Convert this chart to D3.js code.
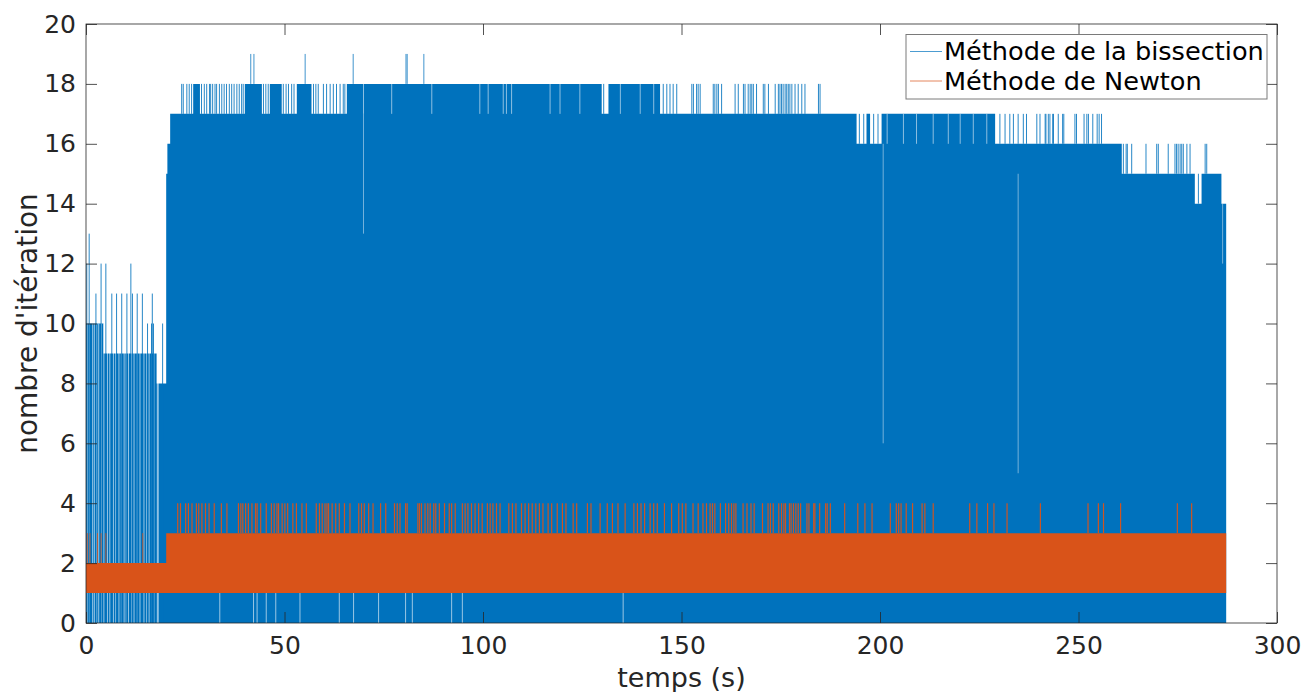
<!DOCTYPE html>
<html>
<head>
<meta charset="utf-8">
<script src="https://cdn.jsdelivr.net/npm/d3@7"></script>
<style>
  body { margin: 0; background: #fff; }
  svg { display: block; font-family: "DejaVu Sans", sans-serif; }
</style>
</head>
<body>
<svg id="chart" width="1304" height="692"></svg>
<script>
'use strict';

// ---- values ----
const xTicks = [0, 50, 100, 150, 200, 250, 300];
const yTicks = [0, 2, 4, 6, 8, 10, 12, 14, 16, 18, 20];
const seriesNames = ["Méthode de la bissection", "Méthode de Newton"];

// bisection : solid envelope of the fast oscillation (step after)
const bisStepT = [0, 4.4, 17.8, 20.2, 20.5, 21.2, 27.0, 28.7, 40.0, 44.3, 46.3, 49.3, 53.1, 56.8, 65.7,
  129.9, 131.6, 144.6, 194.1, 196.6, 197.5, 200.4, 229.0, 260.9, 279.3, 281.0, 286.0, 287.2];
const bisStepV = [10, 9, 8, 15, 16, 17, 18, 17, 18, 17, 18, 17, 18, 17, 18,
  17, 18, 17, 16, 17, 16, 17, 16, 15, 14, 15, 14, 14];

// bisection : isolated peaks during the first 20 s
const bisEarlyT = [0.2, 0.8, 2.5, 3.8, 5.0, 6.5, 7.7, 9.0, 10.3, 11.3, 11.7, 12.9, 14.2, 15.5, 16.5, 16.7, 17.0, 19.3];
const bisEarlyV = [12, 13, 11, 12, 12, 11, 11, 11, 11, 12, 11, 11, 11, 10, 10, 11, 10, 10];

// bisection : peaks one level above the envelope
const bisPeak19 = [41.5, 42.3, 55.2, 67.3, 80.6, 80.9, 85.1];
const bisPeak18 = [24.1, 24.5, 25.4, 26.0, 26.6, 29.1, 29.8, 30.4, 31.1, 31.4, 31.9, 32.5, 32.9, 33.6, 34.2,
  34.8, 35.4, 36.1, 36.7, 37.3, 38.0, 38.6, 39.2, 39.6, 44.7, 45.3, 45.9, 49.7, 50.4, 51.0, 51.8, 52.4,
  57.3, 57.9, 58.5, 59.8, 60.6, 61.5, 62.3, 63.1, 64.0, 64.8, 65.2, 130.4, 145.4, 146.3, 147.1, 147.9,
  148.8, 152.6, 153.0, 153.8, 154.2, 154.7, 158.0, 158.4, 158.9, 159.3, 160.1, 163.5, 164.3, 165.6, 166.0,
  166.8, 167.3, 167.7, 168.1, 168.9, 170.6, 171.0, 171.9, 173.6, 174.4, 174.8, 175.2, 175.6, 176.1, 176.5,
  176.9, 177.3, 177.8, 178.6, 179.4, 180.3, 181.1, 184.5, 184.9];
const bisPeak17 = [194.8, 195.9, 198.4, 199.5, 230.2, 231.5, 232.7, 233.6, 234.8, 236.1, 236.9, 239.5, 240.3,
  241.6, 241.8, 242.4, 242.8, 243.5, 243.7, 244.9, 246.0, 246.3, 249.1, 249.5, 251.4, 252.1, 252.5, 253.6,
  254.7, 255.2, 255.8];
const bisPeak16 = [261.3, 262.0, 262.3, 263.4, 267.0, 269.7, 270.1, 272.6, 274.3, 274.7, 275.1, 275.6,
  276.0, 276.4, 277.3, 278.1, 281.9, 282.3];
const bisPeak15 = [280.2];

// bisection : instants where the oscillation does not reach the envelope
const bisEarlyGap = [0.33, 0.84, 1.68, 2.1, 2.7, 3.2, 3.9, 4.5, 5.4, 6.0, 6.9, 7.5, 8.3, 8.9, 9.6, 10.1,
  10.7, 11.5, 12.1, 12.9, 13.6, 14.6, 15.3, 15.9, 16.5, 17.1, 17.97, 18.2];
const bisGap18 = [69.9, 77.0, 87.1, 99.2, 101.3, 105.1, 105.9, 107.2, 116.9, 119.4, 124.4, 134.6, 139.6, 143.0];
const bisGap17 = [201.8, 205.9, 209.2, 213.4, 217.2, 220.2, 223.5, 226.9];
const bisGapLow = [33.7, 42.2, 43.1, 45.4, 47.8, 53.9, 63.8, 67.4, 73.7, 80.5, 82.2, 92.1, 94.8, 135.3];
const bisLongGapT = [69.9, 200.8, 234.8, 286.3];
const bisLongGapHi = [17, 16, 15, 14];
const bisLongGapLo = [13, 6, 5, 12];

// Newton : band between 1 and the envelope (step after)
const newStepT = [0, 20.2, 287.2];
const newStepV = [2, 3, 3];
const newPeak3 = [0.33, 1.0, 2.9, 3.8, 5.0, 14.3];
const newPeak4 = [23.1, 23.8, 25.1, 25.8, 26.7, 27.8, 28.4, 29.2, 30.1, 31.0, 32.3, 34.1, 35.5, 38.4, 39.0,
  39.5, 40.2, 40.9, 41.8, 42.7, 43.1, 44.0, 45.4, 46.7, 47.4, 48.1, 48.5, 49.4, 50.1, 50.8, 52.1, 53.0,
  54.4, 55.5, 58.0, 58.8, 59.5, 60.2, 60.7, 61.1, 62.0, 62.9, 63.8, 65.1, 66.5, 68.7, 69.4, 70.1, 71.2,
  72.3, 74.2, 75.5, 77.7, 78.4, 79.1, 80.5, 80.9, 83.6, 84.0, 84.5, 85.4, 86.1, 86.7, 87.6, 88.1, 89.0,
  90.3, 91.5, 92.1, 93.0, 94.8, 95.5, 96.2, 97.1, 98.0, 98.9, 99.8, 101.1, 101.8, 102.5, 103.4, 104.3,
  106.5, 107.4, 108.3, 109.7, 110.6, 111.5, 112.4, 113.3, 114.2, 115.1, 116.4, 117.3, 118.7, 120.0,
  120.9, 122.7, 123.6, 126.3, 127.2, 129.5, 131.3, 132.6, 134.0, 135.8, 138.0, 138.9, 139.8, 140.7,
  142.1, 143.0, 143.9, 145.7, 147.5, 149.3, 150.2, 151.1, 152.9, 154.2, 155.4, 156.3, 157.2, 157.8,
  158.4, 159.8, 161.1, 161.9, 162.6, 163.2, 163.7, 165.5, 166.5, 167.5, 168.3, 170.4, 171.8, 172.4,
  173.1, 174.5, 175.2, 175.8, 176.2, 177.2, 177.6, 178.2, 178.8, 179.4, 180.0, 181.6, 182.1, 183.3,
  183.6, 184.8, 186.3, 186.7, 187.5, 191.1, 194.4, 196.2, 198.0, 202.6, 204.1, 204.7, 205.3, 206.6,
  208.2, 210.6, 211.3, 213.4, 222.6, 224.4, 227.1, 228.7, 232.0, 240.4, 252.4, 255.0, 256.3, 260.6,
  274.9, 278.5];

// ---- drawing ----
const blue = "#0072BD", orange = "#D95319", ink = "#262626";
const svg = d3.select("#chart");

const x = d3.scaleLinear().domain([0, 300]).range([86, 1277]);
const y = d3.scaleLinear().domain([0, 20]).range([623, 24]);

svg.append("defs").append("clipPath").attr("id", "plotArea")
  .append("rect")
    .attr("x", x(0)).attr("y", y(20))
    .attr("width", x(300) - x(0)).attr("height", y(0) - y(20));

const plot = svg.append("g").attr("clip-path", "url(#plotArea)");

function vlines(times, lo, hi, color, width, opacity) {
  plot.append("g").selectAll("line")
    .data(times)
    .join("line")
      .attr("x1", d => x(d)).attr("x2", d => x(d))
      .attr("y1", (d, i) => y(typeof lo === "function" ? lo(d, i) : lo))
      .attr("y2", (d, i) => y(typeof hi === "function" ? hi(d, i) : hi))
      .attr("stroke", color)
      .attr("stroke-width", width)
      .attr("stroke-opacity", opacity);
}

// bisection envelope
const bisPts = bisStepT.map((t, i) => ({t: t, v: bisStepV[i]}));
plot.append("path")
  .datum(bisPts)
  .attr("fill", blue)
  .attr("d", d3.area().curve(d3.curveStepAfter)
    .x(d => x(d.t)).y0(y(0)).y1(d => y(d.v)));

// holes in the oscillation
vlines(bisEarlyGap, 0, 10, "#fff", 1, 0.6);
vlines(bisGap18, 17, 18, "#fff", 1, 0.55);
vlines(bisGap17, 16, 17, "#fff", 1, 0.55);
vlines(bisGapLow, 0, 1, "#fff", 1, 0.6);
vlines(bisLongGapT, (d, i) => bisLongGapLo[i], (d, i) => bisLongGapHi[i], "#fff", 1, 0.45);

// peaks
vlines(bisEarlyT, 0, (d, i) => bisEarlyV[i], blue, 1, 0.85);
vlines(bisPeak19, 18, 19, blue, 1, 0.75);
vlines(bisPeak18, 17, 18, blue, 1, 0.85);
vlines(bisPeak17, 16, 17, blue, 1, 0.85);
vlines(bisPeak16, 15, 16, blue, 1, 0.85);
vlines(bisPeak15, 14, 15, blue, 1, 0.85);

// Newton band
const newPts = newStepT.map((t, i) => ({t: t, v: newStepV[i]}));
plot.append("path")
  .datum(newPts)
  .attr("fill", orange)
  .attr("d", d3.area().curve(d3.curveStepAfter)
    .x(d => x(d.t)).y0(y(1)).y1(d => y(d.v)));

vlines(newPeak3, 2, 3, orange, 1, 0.8);
vlines(newPeak4, 3, 4, orange, 1.2, 0.95);

// ---- axes (MATLAB style box, ticks inside) ----
function styleAxis(g) {
  g.attr("font-family", "'DejaVu Sans', sans-serif").attr("font-size", 25);
  g.select(".domain").remove();
  g.selectAll(".tick line").attr("stroke", ink).attr("stroke-width", 0.8);
  g.selectAll(".tick text").attr("fill", ink);
}

svg.append("g")
  .attr("transform", `translate(0,${y(0)})`)
  .call(d3.axisBottom(x).tickValues(xTicks).tickSize(-11).tickPadding(13))
  .call(styleAxis);

svg.append("g")
  .attr("transform", `translate(0,${y(20)})`)
  .call(d3.axisTop(x).tickValues(xTicks).tickSize(-11).tickFormat(""))
  .call(styleAxis);

svg.append("g")
  .attr("transform", `translate(${x(0)},0)`)
  .call(d3.axisLeft(y).tickValues(yTicks).tickSize(-11).tickPadding(10))
  .call(styleAxis);

svg.append("g")
  .attr("transform", `translate(${x(300)},0)`)
  .call(d3.axisRight(y).tickValues(yTicks).tickSize(-11).tickFormat(""))
  .call(styleAxis);

svg.append("rect")
  .attr("x", x(0)).attr("y", y(20))
  .attr("width", x(300) - x(0)).attr("height", y(0) - y(20))
  .attr("fill", "none")
  .attr("stroke", ink)
  .attr("stroke-width", 0.8);

// axis labels
svg.append("text")
  .attr("x", (x(0) + x(300)) / 2)
  .attr("y", 687)
  .attr("text-anchor", "middle")
  .attr("font-size", 27)
  .attr("fill", ink)
  .text("temps (s)");

svg.append("text")
  .attr("transform", `translate(37,${(y(0) + y(20)) / 2}) rotate(-90)`)
  .attr("text-anchor", "middle")
  .attr("font-size", 28)
  .attr("fill", ink)
  .text("nombre d'itération");

// ---- legend ----
const legend = svg.append("g").attr("transform", "translate(906,34.5)");
legend.append("rect")
  .attr("width", 361).attr("height", 64.5)
  .attr("fill", "#fff")
  .attr("stroke", "#7a7a7a")
  .attr("stroke-width", 1);

legend.selectAll("g.item")
  .data(seriesNames)
  .join("g")
    .attr("class", "item")
    .attr("transform", (d, i) => `translate(0,${17 + i * 29.5})`)
    .each(function(d, i) {
      const item = d3.select(this);
      item.append("line")
        .attr("x1", 4).attr("x2", 36)
        .attr("stroke", i === 0 ? blue : orange)
        .attr("stroke-width", 1)
        .attr("stroke-opacity", 0.7);
      item.append("text")
        .attr("x", 38)
        .attr("y", 8.5)
        .attr("font-size", 25.6)
        .attr("fill", "#000")
        .text(d);
    });
</script>
</body>
</html>
